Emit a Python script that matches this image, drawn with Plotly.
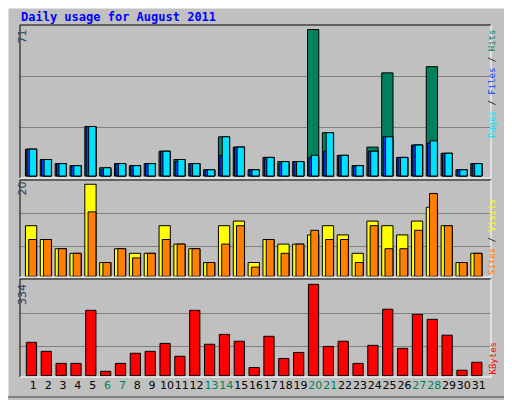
import plotly.graph_objects as go

days = list(range(1, 32))
weekend = [6, 7, 13, 14, 20, 21, 27, 28]

hits = [13, 8, 6, 5, 24, 4, 6, 5, 6, 12, 8, 6, 3, 19, 14, 3, 9, 7, 7, 71, 21, 10, 5, 14, 50, 9, 15, 53, 11, 3, 6]
files = [13, 8, 6, 5, 24, 3, 6, 5, 6, 12, 7, 6, 3, 10, 14, 3, 9, 6, 7, 9, 12, 10, 5, 12, 19, 9, 15, 16, 11, 3, 6]
pages = [13, 8, 6, 5, 24, 4, 6, 5, 6, 12, 8, 6, 3, 19, 14, 3, 9, 7, 7, 10, 21, 10, 5, 12, 19, 9, 15, 17, 11, 3, 6]
visits = [11, 8, 6, 5, 20, 3, 6, 5, 5, 11, 7, 6, 3, 11, 12, 3, 8, 7, 7, 9, 11, 9, 5, 12, 11, 9, 12, 15, 11, 3, 5]
sites = [8, 8, 6, 5, 14, 3, 6, 4, 5, 8, 7, 6, 3, 7, 11, 2, 8, 5, 7, 10, 8, 8, 3, 11, 6, 6, 10, 18, 11, 3, 5]
kbytes = [122, 89, 45, 45, 239, 16, 45, 82, 89, 118, 71, 239, 115, 151, 126, 30, 144, 63, 85, 334,
          107, 126, 45, 111, 243, 100, 224, 206, 148, 20, 49]

BG = "#C0C0C0"
# the page puts the figure 8px in from the top-left corner
OFF = 8
W, H = 512 - OFF, 400 - OFF


def px(x):
    return (x - OFF) / W


def py(y):
    return 1 - (y - OFF) / H


def bar(y, color, offset, width, xa, ya):
    return go.Bar(x=days, y=y, marker=dict(color=color, line=dict(color="black", width=1)),
                  offset=offset, width=width, xaxis=xa, yaxis=ya, showlegend=False, hoverinfo="skip")


fig = go.Figure()
fig.add_trace(bar(hits, "#00805C", -0.53, 0.76, "x", "y"))
fig.add_trace(bar(files, "#0040FF", -0.44, 0.67, "x", "y"))
fig.add_trace(bar(pages, "#00E0FF", -0.27, 0.49, "x", "y"))
fig.add_trace(bar(visits, "#FFFF00", -0.53, 0.76, "x2", "y2"))
fig.add_trace(bar(sites, "#FF8000", -0.31, 0.53, "x2", "y2"))
fig.add_trace(bar(kbytes, "#FF0000", -0.47, 0.69, "x3", "y3"))

# panel pixel boxes (top, bottom)
panels = [(25, 178), (180, 277), (279, 377)]
xdom = [px(20), px(491)]
xr = [0.104, 31.83]
ticktext = [f"<span style='color:{'#00805C' if d in weekend else 'black'}'>{d}</span>" for d in days]

ax = dict(range=xr, domain=xdom, showgrid=False, zeroline=False, showticklabels=False, ticks="", fixedrange=True)
fig.update_layout(
    xaxis=dict(ax, anchor="y"),
    xaxis2=dict(ax, anchor="y2"),
    xaxis3=dict(ax, anchor="y3", showticklabels=True, tickvals=days, ticktext=ticktext, tickangle=0,
                tickfont=dict(family="DejaVu Sans", size=11), ticklen=0),
)
yspec = [("yaxis", [-0.97, 73.2], [23.7, 48.3]),
         ("yaxis2", [-0.15, 20.93], [6.5, 13.7]),
         ("yaxis3", [-4.75, 353.4], [107, 228])]
for (name, rng, grid), (t, b) in zip(yspec, panels):
    fig.update_layout(**{name: dict(range=rng, domain=[py(b), py(t)], tickvals=grid,
                                     showticklabels=False, showgrid=True, gridcolor="#808080",
                                     gridwidth=1, zeroline=False, ticks="", fixedrange=True)})

shapes = [dict(type="rect", xref="paper", yref="paper", x0=0, x1=px(509), y0=py(397), y1=1,
               line=dict(color="white", width=1)),
          dict(type="line", xref="paper", yref="paper", x0=px(509), x1=px(509), y0=py(397), y1=1,
               line=dict(color="#808080", width=2)),
          dict(type="line", xref="paper", yref="paper", x0=0, x1=px(509), y0=py(397), y1=py(397),
               line=dict(color="#808080", width=2))]
for t, b in panels:
    y0, y1 = py(b), py(t)
    shapes += [
        dict(type="line", xref="paper", yref="paper", x0=xdom[0], x1=xdom[0], y0=y0, y1=y1, line=dict(color="black", width=1)),
        dict(type="line", xref="paper", yref="paper", x0=xdom[0], x1=xdom[1], y0=y1, y1=y1, line=dict(color="black", width=1)),
        dict(type="line", xref="paper", yref="paper", x0=xdom[1], x1=xdom[1], y0=y0, y1=y1, line=dict(color="white", width=1)),
        dict(type="line", xref="paper", yref="paper", x0=xdom[0], x1=xdom[1], y0=y0, y1=y0, line=dict(color="white", width=1)),
    ]

mono = "DejaVu Sans Mono"
ann = [
    dict(text="<b>Daily usage for August 2011</b>", x=px(19), y=py(8), xanchor="left", yanchor="top",
         font=dict(family=mono, size=12, color="#0000FF")),
    dict(text="71", x=px(14), y=py(28), textangle=-90, yanchor="top", font=dict(family="DejaVu Sans", size=11)),
    dict(text="20", x=px(14), y=py(180), textangle=-90, yanchor="top", font=dict(family="DejaVu Sans", size=11)),
    dict(text="334", x=px(14), y=py(282), textangle=-90, yanchor="top", font=dict(family="DejaVu Sans", size=11)),
    dict(text="<span style='color:#00E0FF'>Pages</span> / <span style='color:#0040FF'>Files</span> / "
              "<span style='color:#00805C'>Hits</span>",
         x=px(499), y=py(28), textangle=-90, yanchor="top", font=dict(family=mono, size=9, color="black")),
    dict(text="<span style='color:#FF8000'>Sites</span> / <span style='color:#FFFF00'>Visits</span>",
         x=px(499), y=py(197), textangle=-90, yanchor="top", font=dict(family=mono, size=9, color="black")),
    dict(text="KBytes", x=px(499), y=py(377), textangle=-90, yanchor="bottom",
         font=dict(family=mono, size=9, color="#FF0000")),
]
for a in ann:
    a.update(xref="paper", yref="paper", showarrow=False)

fig.update_layout(width=W, height=H, margin=dict(l=0, r=0, t=0, b=0), paper_bgcolor=BG, plot_bgcolor=BG,
                  barmode="overlay", shapes=shapes, annotations=ann)
fig.write_html("out.html", config={"displayModeBar": False})
